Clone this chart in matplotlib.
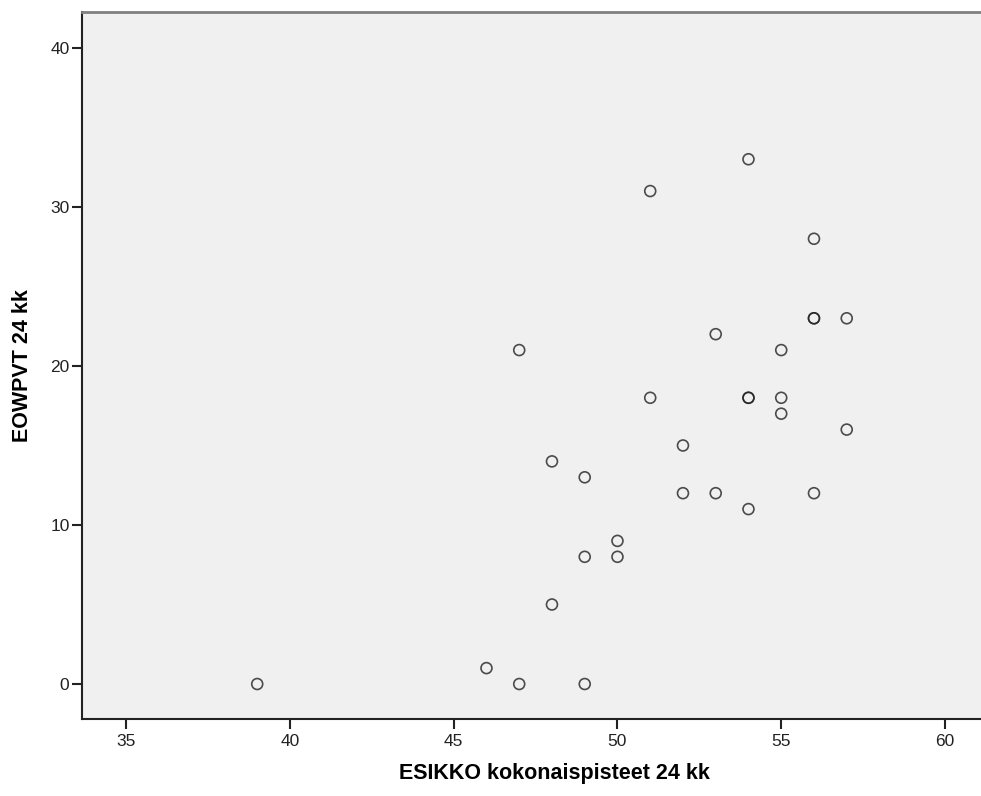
import matplotlib
matplotlib.use("Agg")
import matplotlib.pyplot as plt

plt.rcParams['font.family'] = ['Liberation Sans', 'DejaVu Sans']

esikko = [39, 46, 47, 47, 48, 48, 49, 49, 49, 50, 50, 51, 51, 52, 52, 53, 53,
          54, 54, 54, 54, 55, 55, 55, 56, 56, 56, 56, 57, 57]
eowpvt = [0, 1, 0, 21, 14, 5, 13, 8, 0, 9, 8, 31, 18, 15, 12, 22, 12,
          33, 18, 18, 11, 21, 18, 17, 28, 23, 23, 12, 23, 16]
xticks = [35, 40, 45, 50, 55, 60]
yticks = [0, 10, 20, 30, 40]

fig = plt.figure(figsize=(9.81, 7.96), dpi=100)
ax = fig.add_axes([82/981, (796-719)/796, (981-82)/981, (719-12)/796])
ax.set_facecolor('#F0F0F0')

ax.scatter(esikko, eowpvt, s=62, facecolors='none', edgecolors='#222222',
           linewidths=1.2, alpha=0.8, zorder=3)

ax.set_xlim(33.65, 61.1)
ax.set_ylim(-2.2, 42.26)
ax.set_xticks(xticks)
ax.set_yticks(yticks)
ax.tick_params(axis='both', direction='out', length=7.5, width=1.5,
               colors='#222222', labelsize=12.5, labelcolor='#222222')
ax.tick_params(axis='y', pad=1.5)
ax.tick_params(axis='x', pad=3)
for s in ['left', 'bottom']:
    ax.spines[s].set_linewidth(1.5)
    ax.spines[s].set_color('#222222')
ax.spines['top'].set_color('#808080')
ax.spines['top'].set_linewidth(2)
ax.spines['right'].set_visible(False)

ax.set_xlabel('ESIKKO kokonaispisteet 24 kk', fontsize=15.5, fontweight='bold')
ax.xaxis.set_label_coords(0.5256, -0.0625)
ax.set_ylabel('EOWPVT 24 kk', fontsize=15.5, fontweight='bold', labelpad=12)

fig.savefig('out.png', dpi=100)
